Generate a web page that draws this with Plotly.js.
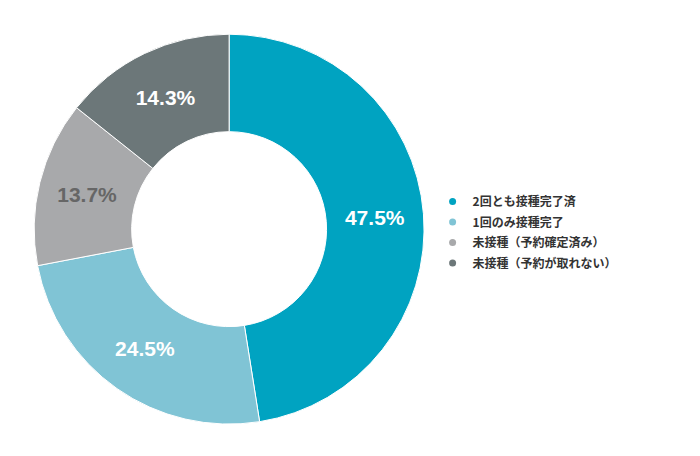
<!DOCTYPE html>
<html>
<head>
<meta charset="utf-8">
<script src="https://cdn.plot.ly/plotly-3.0.1.min.js"></script>
<style>
  html, body { margin: 0; padding: 0; background: #fff; }
  #chart { width: 700px; height: 456px; }
</style>
</head>
<body>
<div id="chart"></div>
<script>
// vaccination status shares (%)
const categories = ["2回とも接種完了済", "1回のみ接種完了", "未接種（予約確定済み）", "未接種（予約が取れない）"];
const shares = [47.5, 24.5, 13.7, 14.3];
const labels = ["47.5%", "24.5%", "13.7%", "14.3%"];
const colors = ["#00a3c1", "#80c4d5", "#a8a9ab", "#6c7779"];
const labelColors = ["#ffffff", "#ffffff", "#666666", "#ffffff"];

const traces = [];

traces.push({
    type: "pie",
    values: shares,
    labels: categories,
    text: labels,
    textinfo: "text",
    textposition: "inside",
    insidetextorientation: "horizontal",
    hole: 0.5,
    sort: false,
    direction: "clockwise",
    rotation: 0,
    marker: {
        colors: colors,
        line: { color: "#ffffff", width: 1 }
    },
    textfont: {
        family: "Liberation Sans, Arial, sans-serif",
        size: 21,
        color: labelColors,
        weight: "bold"
    },
    domain: { x: [0.0486, 0.606], y: [0.070, 0.925] },
    showlegend: false,
    hoverinfo: "label+percent"
});

// legend entries with round markers
categories.forEach((name, i) => {
    traces.push({
        type: "scatter",
        mode: "markers",
        x: [null],
        y: [null],
        name: name,
        legendgroup: "g" + i,
        marker: { color: colors[i], size: 7, symbol: "circle" },
        hoverinfo: "skip"
    });
});

Plotly.newPlot("chart", traces, {
    width: 700,
    height: 456,
    margin: { l: 0, r: 0, t: 0, b: 0 },
    paper_bgcolor: "#ffffff",
    plot_bgcolor: "#ffffff",
    xaxis: { visible: false },
    yaxis: { visible: false },
    showlegend: true,
    legend: {
        x: 0.618,
        xanchor: "left",
        y: 0.49,
        yanchor: "middle",
        itemwidth: 30,
        traceorder: "grouped",
        tracegroupgap: 1.5,
        font: {
            family: "Noto Sans CJK JP, sans-serif",
            size: 12,
            color: "#333333",
            weight: "bold"
        },
        bgcolor: "rgba(0,0,0,0)"
    }
}, { displayModeBar: false, staticPlot: true });
</script>
</body>
</html>
